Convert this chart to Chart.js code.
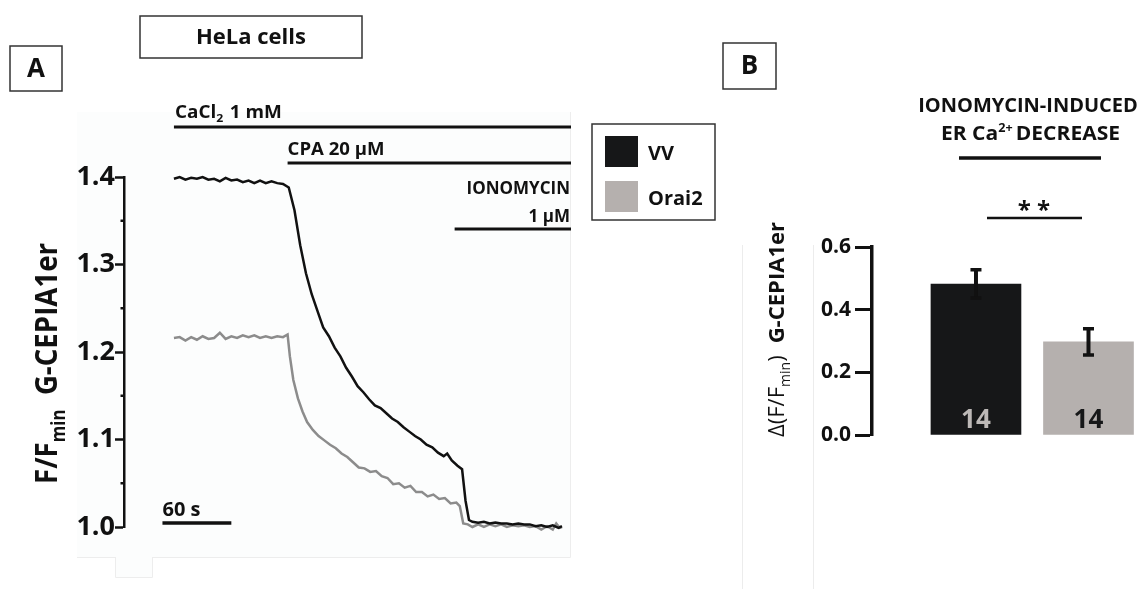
<!DOCTYPE html>
<html>
<head>
<meta charset="utf-8">
<script src="https://cdn.jsdelivr.net/npm/chart.js@4.4.1/dist/chart.umd.min.js"></script>
<style>
  html, body { margin: 0; padding: 0; background: #fff; width: 1146px; height: 589px; overflow: hidden; }
  #wrapA { position: absolute; left: 0; top: 0; width: 580px; height: 589px; }
  #wrapB { position: absolute; left: 580px; top: 0; width: 566px; height: 589px; }
</style>
</head>
<body>
<div id="wrapA"><canvas id="traceChart"></canvas></div>
<div id="wrapB"><canvas id="barChart"></canvas></div>
<script>
// ---- Panel A: G-CEPIA1er traces (time in s, F/Fmin) ----
const vvTime = [0, 5, 10, 15, 20, 25, 30, 35, 40, 45, 50, 55, 60, 65, 70, 75, 80, 85, 90, 95,
  100, 105, 110, 115, 120, 125, 130, 135, 140, 145, 150, 155, 160, 165, 170, 175, 180, 185, 190, 195,
  200, 205, 210, 215, 220, 225, 230, 235, 238, 242, 247, 251, 254, 257, 260, 265, 270, 275, 280, 285,
  290, 295, 300, 305, 310, 315, 320, 325, 330, 335, 338];
const vvRatio = [1.398, 1.400, 1.397, 1.399, 1.398, 1.400, 1.397, 1.398, 1.395, 1.399, 1.396, 1.397, 1.394, 1.396, 1.393, 1.396, 1.393, 1.395, 1.393, 1.392,
  1.388, 1.362, 1.322, 1.290, 1.266, 1.247, 1.228, 1.218, 1.205, 1.195, 1.182, 1.172, 1.161, 1.154, 1.146, 1.139, 1.136, 1.130, 1.124, 1.120,
  1.114, 1.109, 1.104, 1.100, 1.094, 1.091, 1.085, 1.081, 1.084, 1.076, 1.070, 1.066, 1.030, 1.008, 1.006, 1.005, 1.006, 1.004, 1.005, 1.004,
  1.004, 1.003, 1.004, 1.003, 1.003, 1.001, 1.002, 1.000, 1.002, 0.999, 1.001];

const orai2Time = [0, 5, 10, 15, 20, 25, 30, 35, 40, 45, 50, 55, 60, 65, 70, 75, 80, 85, 90, 95,
  99, 101, 104, 108, 112, 116, 121, 126, 131, 136, 141, 146, 151, 156, 161, 166, 171, 176, 181, 186,
  191, 196, 201, 206, 211, 216, 221, 226, 231, 236, 241, 246, 249, 252, 256, 260, 265, 270, 275, 280,
  285, 290, 295, 300, 305, 310, 315, 320, 325, 330, 333, 336, 338];
const orai2Ratio = [1.216, 1.217, 1.213, 1.217, 1.214, 1.218, 1.215, 1.216, 1.222, 1.215, 1.218, 1.216, 1.219, 1.217, 1.219, 1.216, 1.218, 1.216, 1.218, 1.217,
  1.220, 1.195, 1.168, 1.147, 1.132, 1.120, 1.111, 1.104, 1.099, 1.094, 1.090, 1.084, 1.080, 1.074, 1.068, 1.067, 1.063, 1.064, 1.058, 1.056,
  1.049, 1.050, 1.045, 1.047, 1.040, 1.040, 1.035, 1.037, 1.032, 1.033, 1.027, 1.028, 1.024, 1.004, 1.003, 1.000, 1.003, 1.000, 1.003, 1.001,
  1.003, 1.000, 1.002, 1.001, 1.002, 1.000, 1.001, 0.997, 1.001, 0.997, 1.004, 0.999, 1.000];

const traceTicks = [1.0, 1.1, 1.2, 1.3, 1.4];
const traceMinorTicks = [1.05, 1.15, 1.25, 1.35];

// drug application start times (s)
const cacl2Start = 0;
const cpaStart = 99;
const ionoStart = 244.5;

// ---- Panel B: ionomycin-induced ER Ca2+ decrease ----
const groups = ['VV', 'Orai2'];
const decrease = [0.482, 0.297];
const decreaseSem = [0.045, 0.042];
const cellCounts = [14, 14];
const barTicks = [0.0, 0.2, 0.4, 0.6];

const INK = '#111';
const VV_COLOR = '#161718';
const ORAI_LINE = '#8c8c8c';
const ORAI_BAR = '#b5b0ae';

const bold = s => `bold ${s}px "Open Sans", sans-serif`;
const normal = s => `${s}px "Open Sans", sans-serif`;

// text made of pieces (for sub/superscripts), optionally rotated, squeezed to a width
function richText(ctx, x, y, pieces, width, rotate) {
  ctx.save();
  ctx.translate(x, y);
  if (rotate) ctx.rotate(-Math.PI / 2);
  let total = 0;
  pieces.forEach(p => {
    ctx.font = p.font;
    p.w = ctx.measureText(p.text).width + (p.gap || 0);
    total += p.w;
  });
  const k = width ? width / total : 1;
  ctx.scale(k, 1);
  ctx.textAlign = 'left';
  ctx.textBaseline = 'alphabetic';
  let cx = 0;
  pieces.forEach(p => {
    ctx.font = p.font;
    ctx.fillStyle = p.color || INK;
    ctx.fillText(p.text, cx, p.dy || 0);
    cx += p.w;
  });
  ctx.restore();
}

function label(ctx, text, x, y, font, align, maxW) {
  ctx.save();
  ctx.font = font;
  ctx.fillStyle = INK;
  ctx.textAlign = align || 'left';
  ctx.textBaseline = 'alphabetic';
  if (maxW) ctx.fillText(text, x, y, maxW); else ctx.fillText(text, x, y);
  ctx.restore();
}

function hline(ctx, x1, x2, y, w) {
  ctx.save();
  ctx.strokeStyle = INK;
  ctx.lineWidth = w;
  ctx.beginPath();
  ctx.moveTo(x1, y);
  ctx.lineTo(x2, y);
  ctx.stroke();
  ctx.restore();
}

function boxedLetter(ctx, text, x, y, w, h, font, maxW) {
  ctx.save();
  ctx.strokeStyle = '#333';
  ctx.lineWidth = 1.5;
  ctx.strokeRect(x, y, w, h);
  ctx.font = font;
  ctx.fillStyle = INK;
  ctx.textAlign = 'center';
  ctx.textBaseline = 'middle';
  if (maxW) ctx.fillText(text, x + w / 2, y + h / 2 + 1, maxW);
  else ctx.fillText(text, x + w / 2, y + h / 2 + 1);
  ctx.restore();
}

// ---------------- Panel A ----------------
const panelA = {
  id: 'panelA',
  beforeDraw(chart) {
    const ctx = chart.ctx;
    ctx.save();
    ctx.fillStyle = '#fcfdfd';
    ctx.fillRect(77, 112, 493, 445);
    ctx.fillRect(115, 557, 38, 20);
    ctx.strokeStyle = '#ededed';
    ctx.lineWidth = 1;
    ctx.beginPath();
    ctx.moveTo(570.5, 112); ctx.lineTo(570.5, 557.5); ctx.lineTo(153, 557.5);
    ctx.moveTo(115, 557.5); ctx.lineTo(77, 557.5);
    ctx.moveTo(115.5, 557); ctx.lineTo(115.5, 577.5); ctx.lineTo(152.5, 577.5); ctx.lineTo(152.5, 557);
    ctx.stroke();
    ctx.restore();
  },
  afterDraw(chart) {
    const ctx = chart.ctx;
    const xs = chart.scales.x, ys = chart.scales.y;
    const barEnd = xs.right + 1;

    // drug application bars
    hline(ctx, xs.getPixelForValue(cacl2Start), barEnd, 127, 3.2);
    hline(ctx, xs.getPixelForValue(cpaStart), barEnd, 163, 3.2);
    hline(ctx, xs.getPixelForValue(ionoStart), barEnd, 229, 3.2);

    richText(ctx, xs.getPixelForValue(cacl2Start) + 1, 118, [
      { text: 'CaCl', font: bold(17) },
      { text: '2', font: bold(11), dy: 4, gap: 6 },
      { text: '1 mM', font: bold(17) }
    ], 107);
    richText(ctx, xs.getPixelForValue(cpaStart), 155, [
      { text: 'CPA 20 µM', font: bold(17) }
    ], 97);
    label(ctx, 'IONOMYCIN', barEnd - 1, 194, bold(17), 'right', 110);
    label(ctx, '1 µM', barEnd - 1, 222, bold(17), 'right', 46);

    // 60 s scale bar
    const sb0 = xs.getPixelForValue(-10), sb1 = xs.getPixelForValue(50);
    hline(ctx, sb0, sb1, 523, 3.5);
    label(ctx, '60 s', sb0, 516, bold(20), 'left', 40);

    // minor ticks
    ctx.save();
    ctx.strokeStyle = INK;
    ctx.lineWidth = 2.5;
    traceMinorTicks.forEach(v => {
      const y = ys.getPixelForValue(v);
      ctx.beginPath();
      ctx.moveTo(xs.left - 3.5, y);
      ctx.lineTo(xs.left, y);
      ctx.stroke();
    });
    ctx.restore();

    // y axis title
    richText(ctx, 57, 484, [
      { text: 'F/F', font: bold(31) },
      { text: 'min', font: bold(19), dy: 8, gap: 16 },
      { text: 'G-CEPIA1er', font: bold(31) }
    ], 241, true);

    boxedLetter(ctx, 'HeLa cells', 140, 16, 222, 42, bold(22), 111);
    boxedLetter(ctx, 'A', 10, 46, 52, 45, bold(26));
  }
};

new Chart(document.getElementById('traceChart'), {
  type: 'line',
  data: {
    datasets: [
      {
        label: 'VV',
        data: vvTime.map((t, i) => ({ x: t, y: vvRatio[i] })),
        borderColor: INK,
        borderWidth: 2.5,
        pointRadius: 0,
        tension: 0,
        clip: false,
        order: 0
      },
      {
        label: 'Orai2',
        data: orai2Time.map((t, i) => ({ x: t, y: orai2Ratio[i] })),
        borderColor: ORAI_LINE,
        borderWidth: 2.5,
        pointRadius: 0,
        tension: 0,
        clip: false,
        order: 1
      }
    ]
  },
  options: {
    responsive: true,
    maintainAspectRatio: false,
    animation: false,
    layout: { padding: { left: 0, right: 10, top: 177, bottom: 62 } },
    plugins: { legend: { display: false }, tooltip: { enabled: false } },
    scales: {
      x: { type: 'linear', min: -43.5, max: 345, display: false },
      y: {
        min: 1.0,
        max: 1.4,
        afterFit: s => { s.width = 124; },
        afterBuildTicks: s => { s.ticks = traceTicks.map(v => ({ value: v })); },
        ticks: {
          color: INK,
          padding: 0,
          font: { family: '"Open Sans", sans-serif', size: 27, weight: 'bold' },
          callback: v => v.toFixed(1)
        },
        grid: { drawOnChartArea: false, drawTicks: true, tickLength: 9, tickColor: INK, tickWidth: 2.5 },
        border: { color: INK, width: 2.5 }
      }
    }
  },
  plugins: [panelA]
});

// ---------------- Panel B ----------------
const panelB = {
  id: 'panelB',
  beforeDraw(chart) {
    const ctx = chart.ctx;
    ctx.save();
    ctx.strokeStyle = '#ececec';
    ctx.lineWidth = 1;
    ctx.beginPath();
    ctx.moveTo(162.5, 245); ctx.lineTo(162.5, 589);
    ctx.moveTo(233.5, 245); ctx.lineTo(233.5, 589);
    ctx.stroke();
    ctx.restore();
  },
  afterDatasetsDraw(chart) {
    const ctx = chart.ctx;
    const ys = chart.scales.y;
    const meta = chart.getDatasetMeta(0);
    meta.data.forEach((bar, i) => {
      const top = ys.getPixelForValue(decrease[i] + decreaseSem[i]);
      const bot = ys.getPixelForValue(decrease[i] - decreaseSem[i]);
      ctx.save();
      ctx.strokeStyle = INK;
      ctx.lineWidth = 4;
      ctx.beginPath();
      ctx.moveTo(bar.x, top); ctx.lineTo(bar.x, bot);
      ctx.stroke();
      ctx.lineWidth = 3.5;
      ctx.beginPath();
      ctx.moveTo(bar.x - 5.5, top); ctx.lineTo(bar.x + 5.5, top);
      ctx.moveTo(bar.x - 5.5, bot); ctx.lineTo(bar.x + 5.5, bot);
      ctx.stroke();
      // number of cells
      ctx.font = bold(26);
      ctx.fillStyle = i === 0 ? '#bdb9b7' : VV_COLOR;
      ctx.textAlign = 'center';
      ctx.textBaseline = 'middle';
      ctx.fillText(String(cellCounts[i]), bar.x, ys.getPixelForValue(0.05) + 1);
      ctx.restore();
    });
  },
  afterDraw(chart) {
    const ctx = chart.ctx;

    // legend
    ctx.save();
    ctx.strokeStyle = '#333';
    ctx.lineWidth = 1.5;
    ctx.strokeRect(12, 124, 123, 96);
    ctx.fillStyle = VV_COLOR;
    ctx.fillRect(25, 136, 33, 31);
    ctx.fillStyle = ORAI_BAR;
    ctx.fillRect(25, 181, 33, 31);
    ctx.restore();
    label(ctx, groups[0], 68, 160, bold(20));
    label(ctx, groups[1], 68, 205, bold(20));

    // title
    label(ctx, 'IONOMYCIN-INDUCED', 448, 112, bold(20), 'center', 222);
    richText(ctx, 361, 140, [
      { text: 'ER Ca', font: bold(20) },
      { text: '2+', font: bold(12), dy: -8, gap: 3 },
      { text: 'DECREASE', font: bold(20) }
    ], 179);
    hline(ctx, 379, 521, 158, 3.5);

    // significance
    label(ctx, '* *', 454, 218, bold(24), 'center');
    hline(ctx, 407, 502, 218, 2.5);

    boxedLetter(ctx, 'B', 143, 43, 53, 46, bold(26));

    // y axis title
    richText(ctx, 204, 437, [
      { text: 'Δ(F/F', font: normal(22) },
      { text: 'min', font: normal(14), dy: 6 },
      { text: ')', font: normal(22), gap: 12 },
      { text: 'G-CEPIA1er', font: bold(22) }
    ], 215, true);
  }
};

new Chart(document.getElementById('barChart'), {
  type: 'bar',
  data: {
    datasets: [{
      label: 'ER Ca2+ decrease',
      data: groups.map((g, i) => ({ x: i + 1, y: decrease[i] })),
      backgroundColor: [VV_COLOR, ORAI_BAR],
      borderWidth: 0,
      barThickness: 90
    }]
  },
  options: {
    responsive: true,
    maintainAspectRatio: false,
    animation: false,
    layout: { padding: { left: 0, right: 1.25, top: 247, bottom: 154 } },
    plugins: { legend: { display: false }, tooltip: { enabled: false } },
    scales: {
      x: { type: 'linear', min: 0.076, max: 2.5, offset: false, display: false },
      y: {
        min: 0,
        max: 0.6,
        afterFit: s => { s.width = 292; },
        afterBuildTicks: s => { s.ticks = barTicks.map(v => ({ value: v })); },
        ticks: {
          color: INK,
          padding: 4,
          font: { family: '"Open Sans", sans-serif', size: 21, weight: 'bold' },
          callback: v => v.toFixed(1)
        },
        grid: { drawOnChartArea: false, drawTicks: true, tickLength: 17, tickColor: INK, tickWidth: 3 },
        border: { color: INK, width: 3.5 }
      }
    }
  },
  plugins: [panelB]
});
</script>
</body>
</html>
